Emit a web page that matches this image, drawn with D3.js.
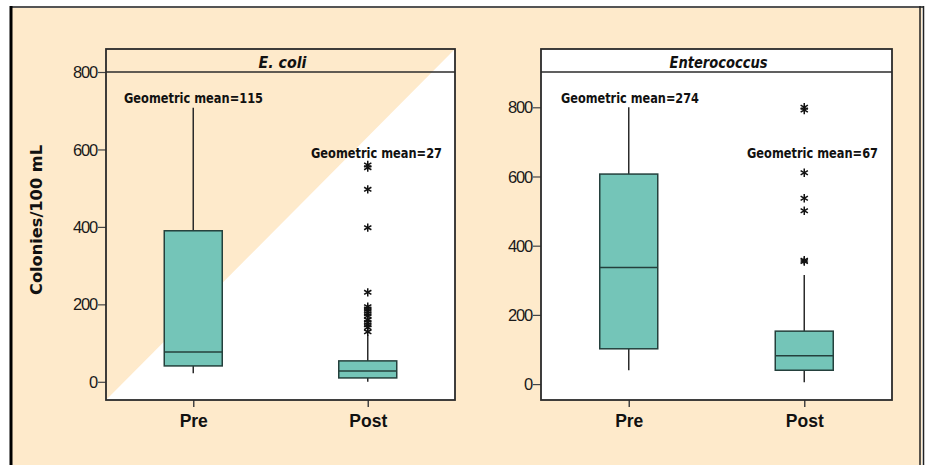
<!DOCTYPE html>
<html><head><meta charset="utf-8">
<script src="https://cdn.jsdelivr.net/npm/d3@7"></script>
<style>body{margin:0;background:#fff}svg{display:block}</style>
</head><body>
<script>
// ---- data ----
const panels = ["E. coli", "Enterococcus"];
const groups = ["Pre", "Post"];
const yTicks = [0, 200, 400, 600, 800];
// [lowerWhisker, Q1, median, Q3, upperWhisker]
const ecoliPre = [22, 41, 77, 390, 708];
const ecoliPost = [0, 10, 28, 54, 120];
const entPre = [40, 102, 337, 607, 800];
const entPost = [5, 40, 82, 153, 315];
const ecoliPreOut = [];
const ecoliPostOut = [560, 553, 497, 398, 231, 194, 188, 182, 176, 170, 160, 153, 147, 140, 129];
const entPreOut = [];
const entPostOut = [800, 792, 611, 537, 501, 358, 354];
const geoMeanEcoli = [115, 27];
const geoMeanEnt = [274, 67];

const W = 930, H = 465;
const svg = d3.select("body").append("svg").attr("width", W).attr("height", H);
const peach = "#FEEACB";
const boxFill = "#74C5B8";
const dark = "#2b2b2b";

// background frame
svg.append("rect").attr("x", 11).attr("y", 7).attr("width", 911).attr("height", H).attr("fill", peach);
svg.append("line").attr("x1", 10).attr("x2", 924).attr("y1", 7).attr("y2", 7).attr("stroke", "#555").attr("stroke-width", 2);
svg.append("line").attr("x1", 11).attr("x2", 11).attr("y1", 6).attr("y2", H).attr("stroke", "#000").attr("stroke-width", 3);
svg.append("line").attr("x1", 920).attr("x2", 920).attr("y1", 6).attr("y2", H).attr("stroke", "#222").attr("stroke-width", 1.5);
svg.append("line").attr("x1", 923.5).attr("x2", 923.5).attr("y1", 6).attr("y2", H).attr("stroke", "#222").attr("stroke-width", 1.5);

const panelDefs = [
  {title: panels[0], x0: 106, x1: 455, dom: [-47, 800], stats: [ecoliPre, ecoliPost], outs: [ecoliPreOut, ecoliPostOut],
   gm: geoMeanEcoli, gmPos: [[124, 102, 139], [311, 157, 131]], titleLen: 48, diag: true, yTitle: true},
  {title: panels[1], x0: 541, x1: 892, dom: [-46, 902], stats: [entPre, entPost], outs: [entPreOut, entPostOut],
   gm: geoMeanEnt, gmPos: [[561, 102, 138], [747, 157, 131]], titleLen: 98, diag: false, yTitle: false}
];
const plotTop = 49, stripB = 72, plotBottom = 400;

function asterisk(g, x, y) {
  const r = 4.2;
  [90, 30, 150].forEach(a => {
    const rad = a * Math.PI / 180;
    g.append("line").attr("x1", x - r * Math.cos(rad)).attr("y1", y - r * Math.sin(rad))
      .attr("x2", x + r * Math.cos(rad)).attr("y2", y + r * Math.sin(rad))
      .attr("stroke", "#111").attr("stroke-width", 1.5);
  });
}

panelDefs.forEach(p => {
  const g = svg.append("g");
  const y = d3.scaleLinear().domain(p.dom).range([plotBottom, stripB]);
  const x = d3.scalePoint().domain(groups).range([p.x0, p.x1]).padding(0.5);
  const bw = 58;
  g.append("rect").attr("x", p.x0).attr("y", plotTop).attr("width", p.x1 - p.x0).attr("height", plotBottom - plotTop).attr("fill", "#fff");
  if (p.diag) {
    g.append("path").attr("d", `M${p.x0},${plotTop}L${p.x1},${plotTop}L${p.x0},${plotBottom}Z`).attr("fill", peach);
  }
  g.append("line").attr("x1", p.x0).attr("x2", p.x1).attr("y1", stripB).attr("y2", stripB).attr("stroke", dark).attr("stroke-width", 1.5);
  g.append("text").attr("x", (p.x0 + p.x1) / 2 + 2).attr("y", 68).attr("text-anchor", "middle")
    .attr("font-family", "DejaVu Sans").attr("font-weight", "bold").attr("font-style", "italic").attr("font-size", 15)
    .attr("textLength", p.titleLen).attr("lengthAdjust", "spacingAndGlyphs").attr("fill", "#111").text(p.title);
  const ya = d3.axisLeft(y).tickValues(yTicks).tickSize(8).tickSizeOuter(0);
  const yg = g.append("g").attr("transform", `translate(${p.x0},0)`).call(ya);
  yg.select(".domain").remove();
  yg.selectAll(".tick line").attr("stroke", "#444").attr("stroke-width", 1.2);
  yg.selectAll(".tick text").attr("font-family", "Liberation Sans").attr("font-size", 16.5).attr("fill", "#1a1a1a")
    .attr("letter-spacing", -1.2).attr("x", -9).attr("dy", "0.34em");
  const xa = d3.axisBottom(x).tickSize(7).tickSizeOuter(0);
  const xg = g.append("g").attr("transform", `translate(0,${plotBottom})`).call(xa);
  xg.select(".domain").remove();
  xg.selectAll(".tick line").attr("stroke", "#444").attr("stroke-width", 1.5);
  xg.selectAll(".tick text").attr("font-family", "Liberation Sans").attr("font-weight", "bold").attr("font-size", 17.5)
    .attr("fill", "#111").attr("y", 15);
  groups.forEach((grp, i) => {
    const s = p.stats[i];
    const cx = x(grp);
    g.append("line").attr("x1", cx).attr("x2", cx).attr("y1", y(s[0])).attr("y2", y(s[1])).attr("stroke", dark).attr("stroke-width", 1.5);
    g.append("line").attr("x1", cx).attr("x2", cx).attr("y1", y(s[3])).attr("y2", y(s[4])).attr("stroke", dark).attr("stroke-width", 1.5);
    g.append("rect").attr("x", cx - bw / 2).attr("y", y(s[3])).attr("width", bw).attr("height", y(s[1]) - y(s[3]))
      .attr("fill", boxFill).attr("stroke", "#24403c").attr("stroke-width", 1.5);
    g.append("line").attr("x1", cx - bw / 2).attr("x2", cx + bw / 2).attr("y1", y(s[2])).attr("y2", y(s[2])).attr("stroke", "#24403c").attr("stroke-width", 1.5);
    p.outs[i].forEach(v => asterisk(g, cx, y(v)));
    const gp = p.gmPos[i];
    g.append("text").attr("x", gp[0]).attr("y", gp[1] + 0.5).attr("font-family", "DejaVu Sans").attr("font-weight", "bold")
      .attr("font-size", 13.5).attr("fill", "#111").attr("textLength", gp[2]).attr("lengthAdjust", "spacingAndGlyphs")
      .text("Geometric mean=" + p.gm[i]);
  });
  g.append("rect").attr("x", p.x0).attr("y", plotTop).attr("width", p.x1 - p.x0).attr("height", plotBottom - plotTop)
    .attr("fill", "none").attr("stroke", dark).attr("stroke-width", 1.8);
  if (p.yTitle) {
    svg.append("text").attr("transform", "translate(42,220) rotate(-90)").attr("text-anchor", "middle")
      .attr("font-family", "DejaVu Sans").attr("font-weight", "bold").attr("font-size", 15.5)
      .attr("textLength", 150).attr("lengthAdjust", "spacingAndGlyphs").attr("fill", "#111").text("Colonies/100 mL");
  }
});
</script>
</body></html>
